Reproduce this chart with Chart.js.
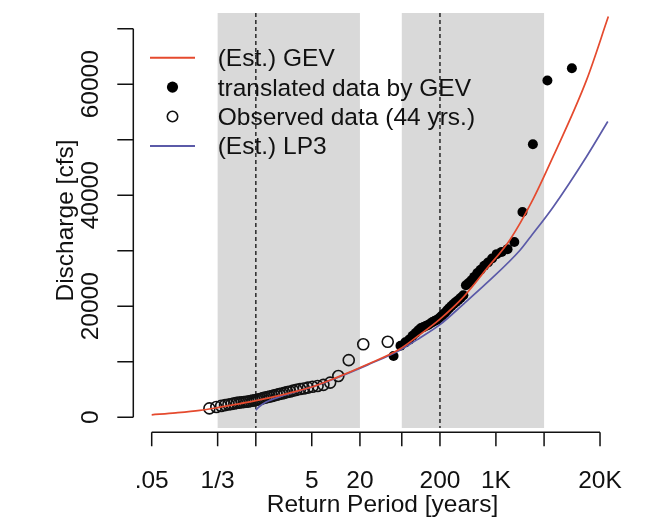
<!DOCTYPE html>
<html>
<head>
<meta charset="utf-8">
<script src="https://cdn.jsdelivr.net/npm/chart.js@4"></script>
<style>
  html, body { margin: 0; padding: 0; background: #fff; }
  #wrap { width: 650px; height: 522px; }
</style>
</head>
<body>
<div id="wrap"><canvas id="chart" width="650" height="522"></canvas></div>
<script>
// Return period [years] vs discharge [cfs]
const gevPeriod = [0.05, 0.1, 0.2, 0.333, 0.5, 1, 2, 3.5, 5, 10, 25, 63, 112, 200, 400, 770, 1500, 2800, 5200, 13600, 25400];
const gevFlow   = [450, 800, 1250, 1750, 2200, 3000, 3950, 4850, 5450, 7100, 9550, 12300, 14900, 17700, 21800, 26800, 32000, 38800, 47000, 60800, 72200];

const lp3Period = [1.0, 1.1, 1.25, 1.5, 2, 3.5, 5, 10, 25, 63, 112, 200, 400, 770, 2000, 2700, 5200, 13600, 25000];
const lp3Flow   = [1300, 1900, 2500, 3050, 3700, 4800, 5450, 7050, 9450, 12100, 14300, 16700, 20500, 24200, 30100, 32500, 37900, 47000, 53300];

// observed annual peaks (44 yrs.), largest first
const obsPeriod = [44.5, 22.0, 14.49, 10.74, 8.49, 6.99, 5.91, 5.11, 4.48, 3.98, 3.57, 3.22, 2.93, 2.68, 2.47,
  2.28, 2.11, 1.96, 1.82, 1.70, 1.59, 1.49, 1.40, 1.31, 1.23, 1.16, 1.09, 1.03, 0.967, 0.910,
  0.856, 0.805, 0.757, 0.710, 0.665, 0.621, 0.579, 0.537, 0.496, 0.455, 0.413, 0.369, 0.321, 0.263];
const obsFlow = [13600, 13150, 10300, 7450, 6250, 5850, 5650, 5500, 5350, 5200, 5100, 4950, 4800, 4650, 4550,
  4400, 4300, 4200, 4050, 3950, 3850, 3750, 3650, 3550, 3450, 3350, 3250, 3150, 3050, 3000,
  2950, 2850, 2800, 2750, 2700, 2650, 2600, 2500, 2400, 2300, 2200, 2050, 1850, 1600];

// translated data by GEV
const transPeriod = [8900, 4400, 2898, 2148, 1698, 1398, 1182, 1022, 896, 796, 714, 644, 586, 536, 494,
  456, 422, 392, 364, 340, 318, 298, 280, 262, 246, 232, 218, 206, 193.4, 182,
  171.2, 161, 151.4, 142, 133, 124.2, 115.8, 107.4, 99.2, 91, 82.6, 73.8, 64.2, 52.6];
const transFlow = [62900, 60700, 49200, 37000, 31600, 30300, 29800, 29400, 28600, 27900, 27300, 26600, 26000, 25300, 24700,
  24200, 23800, 22000, 21550, 21150, 20800, 20450, 20100, 19700, 19300, 18850, 18500, 18150, 17800, 17550,
  17350, 17150, 16900, 16650, 16450, 16250, 16100, 15700, 15200, 14700, 14000, 13500, 12900, 11050];

const xTicks = [0.05, 1 / 3, 1, 5, 20, 200 / 3, 200, 1000, 4000, 20000];
const xTickLabels = ['.05', '1/3', '', '5', '20', '', '200', '1K', '', '20K'];
const yTicks = [0, 10000, 20000, 30000, 40000, 50000, 60000, 70000];
const yTickLabels = ['0', '', '20000', '', '40000', '', '60000', ''];
const shadedRanges = [[1 / 3, 20], [200 / 3, 4000]];
const dashedAt = [1, 200];
const legendLabels = ['(Est.) GEV', 'translated data by GEV', 'Observed data (44 yrs.)', '(Est.) LP3'];

const RED = '#e54a2e';
const BLUE = '#5b5aa8';
const BAND = '#d9d9d9';
const INK = '#111';
const FONT = '24.5px "Liberation Sans", Arial, sans-serif';

const pts = (xs, ys) => xs.map((x, i) => ({ x, y: ys[i] }));

// R-style base graphics: shaded bands, dashed guides, detached axes, plain legend
const rBase = {
  id: 'rBase',
  beforeDatasetsDraw(chart) {
    const { ctx, chartArea: a, scales: { x } } = chart;
    ctx.save();
    ctx.fillStyle = BAND;
    shadedRanges.forEach(([lo, hi]) => {
      const x0 = x.getPixelForValue(lo), x1 = x.getPixelForValue(hi);
      ctx.fillRect(x0, a.top, x1 - x0, a.bottom - a.top);
    });
    ctx.strokeStyle = '#333';
    ctx.lineWidth = 1.6;
    ctx.setLineDash([4, 3]);
    dashedAt.forEach(v => {
      const px = x.getPixelForValue(v);
      ctx.beginPath();
      ctx.moveTo(px, a.top);
      ctx.lineTo(px, a.bottom);
      ctx.stroke();
    });
    ctx.restore();
  },
  afterDraw(chart) {
    const { ctx, chartArea: a, scales: { x, y } } = chart;
    ctx.save();
    ctx.strokeStyle = INK;
    ctx.fillStyle = INK;
    ctx.lineWidth = 1.5;
    ctx.font = FONT;

    // x axis
    const ax = a.bottom + 4.3;
    ctx.beginPath();
    ctx.moveTo(x.getPixelForValue(xTicks[0]), ax);
    ctx.lineTo(x.getPixelForValue(xTicks[xTicks.length - 1]), ax);
    xTicks.forEach(t => {
      const px = x.getPixelForValue(t);
      ctx.moveTo(px, ax);
      ctx.lineTo(px, ax + 14);
    });
    ctx.stroke();
    ctx.textAlign = 'center';
    ctx.textBaseline = 'alphabetic';
    xTicks.forEach((t, i) => {
      if (xTickLabels[i]) ctx.fillText(xTickLabels[i], x.getPixelForValue(t), 488);
    });
    ctx.fillText('Return Period [years]', (a.left + a.right) / 2, 511.5);

    // y axis
    const ay = a.left + 4.3;
    ctx.beginPath();
    ctx.moveTo(ay, y.getPixelForValue(yTicks[0]));
    ctx.lineTo(ay, y.getPixelForValue(yTicks[yTicks.length - 1]));
    yTicks.forEach(t => {
      const py = y.getPixelForValue(t);
      ctx.moveTo(ay, py);
      ctx.lineTo(ay - 16, py);
    });
    ctx.stroke();
    yTicks.forEach((t, i) => {
      if (!yTickLabels[i]) return;
      ctx.save();
      ctx.translate(98, y.getPixelForValue(t));
      ctx.rotate(-Math.PI / 2);
      ctx.fillText(yTickLabels[i], 0, 0);
      ctx.restore();
    });
    ctx.save();
    ctx.translate(73, (a.top + a.bottom) / 2);
    ctx.rotate(-Math.PI / 2);
    ctx.fillText('Discharge [cfs]', 0, 0);
    ctx.restore();

    // legend
    ctx.textAlign = 'left';
    legendLabels.forEach((label, i) => {
      const ry = 57.7 + i * 29.4;
      if (i === 0 || i === 3) {
        ctx.strokeStyle = i === 0 ? RED : BLUE;
        ctx.lineWidth = 2;
        ctx.beginPath();
        ctx.moveTo(150, ry);
        ctx.lineTo(195, ry);
        ctx.stroke();
      } else {
        ctx.beginPath();
        ctx.arc(172.5, ry, i === 1 ? 5.6 : 5.2, 0, Math.PI * 2);
        if (i === 1) { ctx.fillStyle = '#000'; ctx.fill(); }
        else { ctx.strokeStyle = INK; ctx.lineWidth = 1.6; ctx.stroke(); }
      }
      ctx.fillStyle = INK;
      ctx.fillText(label, 217.7, ry + 8.5);
    });
    ctx.restore();
  },
};

new Chart(document.getElementById('chart'), {
  type: 'scatter',
  data: {
    datasets: [
      { label: '(Est.) GEV', data: pts(gevPeriod, gevFlow), showLine: true, borderColor: RED, borderWidth: 1.7,
        pointRadius: 0, cubicInterpolationMode: 'monotone', order: 0 },
      { label: '(Est.) LP3', data: pts(lp3Period, lp3Flow), showLine: true, borderColor: BLUE, borderWidth: 1.7,
        pointRadius: 0, cubicInterpolationMode: 'monotone', order: 1 },
      { label: 'translated data by GEV', data: pts(transPeriod, transFlow), pointRadius: 5,
        pointBackgroundColor: '#000', pointBorderWidth: 0, order: 2 },
      { label: 'Observed data (44 yrs.)', data: pts(obsPeriod, obsFlow), pointRadius: 5.5,
        pointBackgroundColor: 'rgba(0,0,0,0)', pointBorderColor: INK, pointBorderWidth: 1.6, order: 3 },
    ],
  },
  options: {
    responsive: false,
    animation: false,
    layout: { padding: { left: 129, right: 14, top: 13, bottom: 94 } },
    plugins: { legend: { display: false }, tooltip: { enabled: false } },
    scales: {
      x: { type: 'logarithmic', min: 0.02602, max: 56310, display: false },
      y: { type: 'linear', min: -1928, max: 72847, display: false },
    },
  },
  plugins: [rBase],
});
</script>
</body>
</html>
